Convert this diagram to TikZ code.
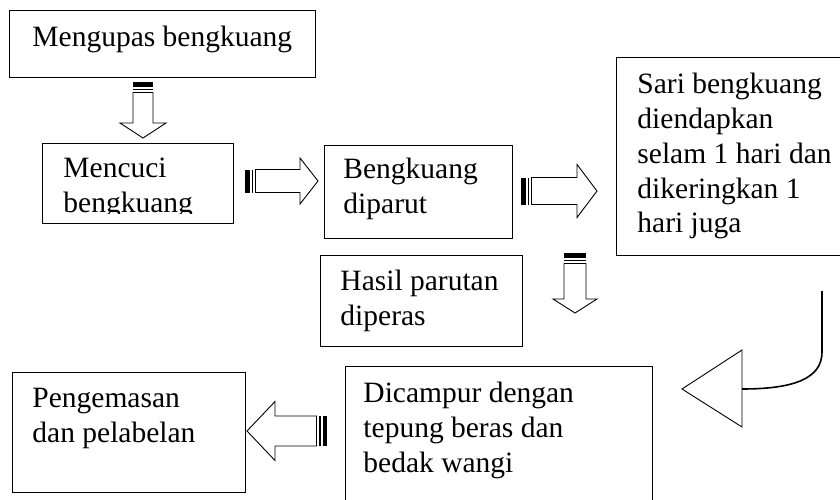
\documentclass[tikz,border=0pt]{standalone}
\usepackage{fontspec}
\setmainfont{Liberation Serif}

\tikzset{
  boxtext/.style={anchor=north west, inner sep=0pt, align=left,
    font=\fontsize{29.5}{34.8}\selectfont},
  pics/stripearrow/.style n args={4}{code={
      \fill (0,-#2) rectangle (4.5,#2);
      \fill (6.5,-#2) rectangle (8,#2);
      \draw (10.5,-#2) -- (#1-#4,-#2) -- (#1-#4,-#3) -- (#1,0) -- (#1-#4,#3) -- (#1-#4,#2) -- (10.5,#2) -- cycle;
  }}
}

\begin{document}
\begin{tikzpicture}[x=1pt, y=-1pt, line width=0.9pt]
            \clip (0,0) rectangle (840,499);

            \draw (9,10) rectangle (315,77);
            \node[boxtext] (kupas) at (32,25.7) {Mengupas bengkuang};

            \draw (42,143) rectangle (233,223);
            \begin{scope}
              \clip (42,143) rectangle (233,213);
              \node[boxtext] (cuci) at (63,157.7) {Mencuci\\bengkuang};
            \end{scope}

            \draw (324,145) rectangle (512,238);
            \node[boxtext] (parut) at (343,157.7) {Bengkuang\\diparut};

            \draw (616,57) rectangle (850,255);
            \node[boxtext] (endap) at (637,72.7) {Sari bengkuang\\diendapkan\\selam 1 hari dan\\dikeringkan 1\\hari juga};

            \draw (320,255) rectangle (522,346);
            \node[boxtext] (peras) at (340,269.7) {Hasil parutan\\diperas};

            \draw (345,366) rectangle (652,510);
            \node[boxtext] (campur) at (363,381.7) {Dicampur dengan\\tepung beras dan\\bedak wangi};

            \draw (12,372) rectangle (245,492);
            \node[boxtext] (kemas) at (32,387.7) {Pengemasan\\dan pelabelan};

            \pic[rotate=-90] at (143,82) {stripearrow={56}{10}{23}{15}};
            \pic at (245,181) {stripearrow={73}{11.5}{23}{18}};
            \pic at (521,191) {stripearrow={76}{13.5}{26.5}{20}};
            \pic[rotate=-90] at (575,253) {stripearrow={60}{11}{22}{14}};
            \pic[rotate=180] at (327,431) {stripearrow={80}{15}{29.5}{28}};

            \coordinate (turn) at (822,291);
            \coordinate (back) at (742,389);
            \draw[line width=1.6pt] (turn) -- (822,352) .. controls (822,378) and (795,389) .. (back);
            \draw (742,350) -- (682,389) -- (742,427) -- cycle;
        \end{tikzpicture}
\end{document}
